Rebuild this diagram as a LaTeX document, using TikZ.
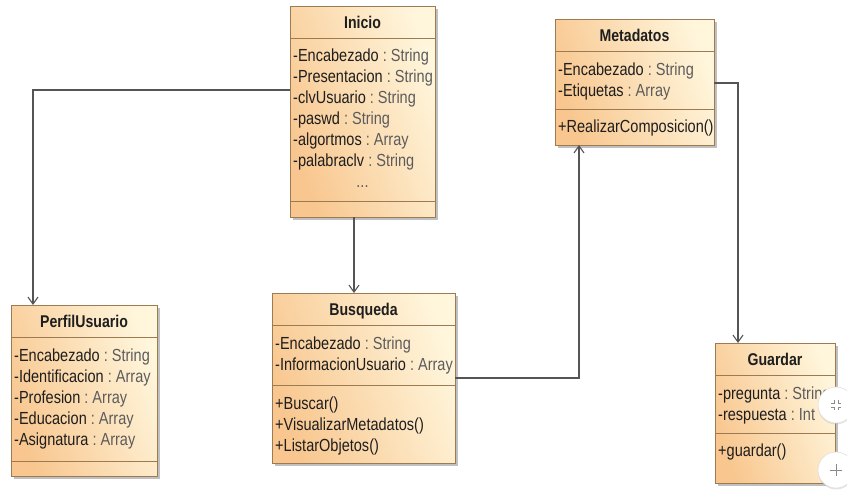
\documentclass[tikz,border=0pt]{standalone}
\usepackage{fontspec}
\setmainfont{Liberation Sans}[FakeStretch=0.83]
\usetikzlibrary{arrows.meta,shadows,calc}

\definecolor{boxline}{HTML}{9C7B52}
\definecolor{fillA}{HTML}{F8C68E}
\definecolor{fillB}{HTML}{FFF6DC}
\definecolor{namecol}{HTML}{1E1E1E}
\definecolor{typecol}{HTML}{5C5C5C}
\definecolor{linkcol}{HTML}{555555}
\definecolor{btnline}{HTML}{8A8A8A}

\tikzset{
  classbox/.style={draw=boxline, line width=0.9pt, left color=fillA, right color=fillB,
    shading angle=110, anchor=north west, inner sep=0pt, outer sep=0pt,
    drop shadow={shadow xshift=3pt, shadow yshift=-3pt, fill=black!45, opacity=0.55}},
  classtitle/.style={anchor=base, inner sep=0pt, text=namecol,
    font=\fontsize{17}{21}\selectfont\bfseries},
  member/.style={anchor=base west, inner sep=0pt, text=namecol,
    font=\fontsize{17.5}{21}\selectfont},
  sepline/.style={draw=boxline, line width=0.9pt},
  assoc/.style={draw=linkcol, line width=1.1pt,
    -{Straight Barb[length=7pt,width=10pt,line width=1.1pt]}},
  button/.style={fill=white, draw=black!12, line width=0.6pt,
    drop shadow={shadow xshift=0pt, shadow yshift=-1.5pt, fill=black!30, opacity=0.35}},
  btnicon/.style={draw=btnline, line width=1pt},
}

% class title: node, title text
\newcommand\classhead[2]{%
  \node[classtitle] at ([yshift=-22pt]#1.north) {#2};
  \draw[sepline] ([yshift=-32pt]#1.north west) -- ([yshift=-32pt]#1.north east);}
% compartment line: node, offset from the top
\newcommand\classsep[2]{%
  \draw[sepline] ([yshift=-#2pt]#1.north west) -- ([yshift=-#2pt]#1.north east);}
% attribute rows: node, first baseline offset, list of name/type
\newcommand\attrrows[3]{%
  \foreach [count=\k] \an/\at in {#3}
    \node[member] at ([xshift=3pt, yshift={-(#2+(\k-1)*21)*1pt}]#1.north west)
      {\an\textcolor{typecol}{\ :\ \at}};}
% operation rows: node, first baseline offset, list of operations
\newcommand\oprows[3]{%
  \foreach [count=\k] \op in {#3}
    \node[member] at ([xshift=3pt, yshift={-(#2+(\k-1)*21)*1pt}]#1.north west) {\op};}

\begin{document}
\begin{tikzpicture}[x=1pt, y=-1pt]
\useasboundingbox (0,0) rectangle (847,493);

% ---- Inicio
\node[classbox, minimum width=145pt, minimum height=211pt] (inicio) at (290,6) {};
\classhead{inicio}{Inicio}
\attrrows{inicio}{55}{-Encabezado/String, -Presentacion/String, -clvUsuario/String,
  -paswd/String, -algortmos/Array, -palabraclv/String}
\node[member, anchor=base, text=typecol] at ([yshift=-181pt]inicio.north) {...};
\classsep{inicio}{195}

% ---- Metadatos
\node[classbox, minimum width=159pt, minimum height=126pt] (metadatos) at (555,19) {};
\classhead{metadatos}{Metadatos}
\attrrows{metadatos}{56}{-Encabezado/String, -Etiquetas/Array}
\classsep{metadatos}{90}
\oprows{metadatos}{113}{+RealizarComposicion()}

% ---- PerfilUsuario
\node[classbox, minimum width=146pt, minimum height=171pt] (perfil) at (11,305) {};
\classhead{perfil}{PerfilUsuario}
\attrrows{perfil}{56}{-Encabezado/String, -Identificacion/Array, -Profesion/Array,
  -Educacion/Array, -Asignatura/Array}
\classsep{perfil}{156}

% ---- Busqueda
\node[classbox, minimum width=183pt, minimum height=170pt] (busqueda) at (272,293) {};
\classhead{busqueda}{Busqueda}
\attrrows{busqueda}{56}{-Encabezado/String, -InformacionUsuario/Array}
\classsep{busqueda}{92}
\oprows{busqueda}{116}{+Buscar(), +VisualizarMetadatos(), +ListarObjetos()}

% ---- Guardar
\node[classbox, minimum width=120pt, minimum height=140pt] (guardar) at (715,343) {};
\classhead{guardar}{Guardar}
\attrrows{guardar}{56}{-pregunta/String, -respuesta/Int}
\classsep{guardar}{90}
\oprows{guardar}{113}{+guardar()}

% ---- associations
\draw[assoc] ([yshift=-84pt]inicio.north west) -| ([xshift=22pt]perfil.north west);
\draw[assoc] ([xshift=64pt]inicio.south west) -- ([xshift=64pt]inicio.south west |- busqueda.north);
\draw[assoc] ([yshift=-85pt]busqueda.north east) -| ([xshift=24pt]metadatos.south west);
\draw[assoc] ([yshift=-64pt]metadatos.north east) -| ([xshift=23pt]guardar.north west);

% ---- round view buttons at the right edge
\fill[button] (836,405) circle (18);
\foreach \sx/\sy in {-1/-1, 1/-1, -1/1, 1/1}
  \draw[btnicon] ($(836,405)+(\sx*2,\sy*5)$) -- ($(836,405)+(\sx*2,\sy*2)$) -- ($(836,405)+(\sx*5,\sy*2)$);
\fill[button] (836,470) circle (18);
\draw[btnicon] (830,470) -- (842,470) (836,464) -- (836,476);
\end{tikzpicture}
\end{document}
